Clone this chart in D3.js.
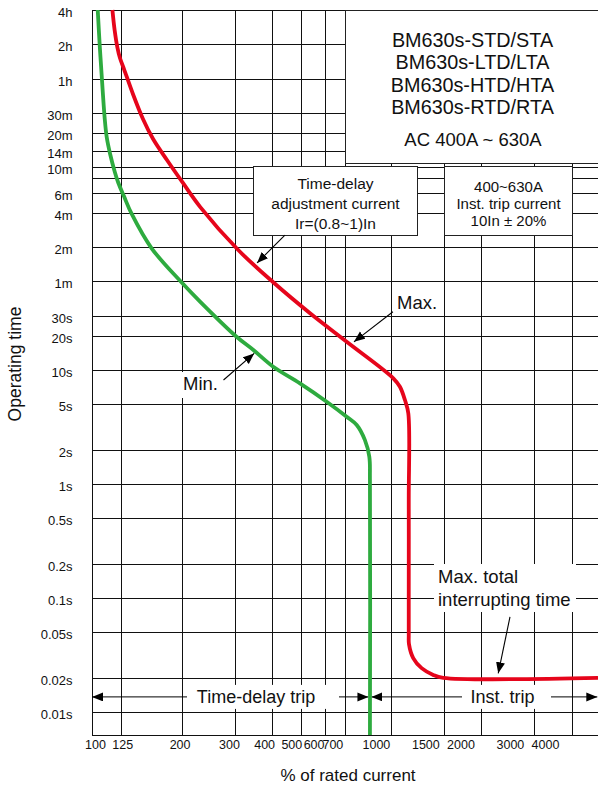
<!DOCTYPE html>
<meta charset="utf-8">
<style>
body { margin: 0; background: #fff; }
text { font-family: "Liberation Sans", Arial, sans-serif; fill: #111; }
.grid line { stroke: #111; stroke-width: 1; shape-rendering: crispEdges; }
.box { fill: #fff; stroke: #222; stroke-width: 1; shape-rendering: crispEdges; }
</style>
<body>
<script src="https://d3js.org/d3.v7.min.js"></script>
<script>

// x: % of rated current, y: operating time in seconds
var xTicks = [100, 125, 200, 300, 400, 500, 600, 700, 1000, 1500, 2000, 3000, 4000];
var xGrid = [125, 200, 300, 400, 500, 600, 700, 1000, 1500, 2000, 3000, 4000];

var yTicks = [14400, 7200, 3600, 1800, 1200, 840, 600, 360, 240, 120, 60, 30, 20, 10, 5, 2, 1, 0.5, 0.2, 0.1, 0.05, 0.02, 0.01];
var yTickLabels = ["4h", "2h", "1h", "30m", "20m", "14m", "10m", "6m", "4m", "2m", "1m", "30s", "20s", "10s", "5s", "2s", "1s", "0.5s", "0.2s", "0.1s", "0.05s", "0.02s", "0.01s"];
var yGrid = yTicks.concat([480]);

// max. curve (red)
var maxCurrent = [117, 119, 121.5, 124, 128, 137, 148, 160, 178, 201, 230, 308, 403, 535, 709, 1015, 1068, 1110, 1139, 1143, 1143, 1143, 1145, 1183, 1262, 1380, 1491, 4900];
var maxTime = [14400, 9618, 6818, 5462, 4349, 2640, 1593, 1063, 696, 440, 269, 113, 58.9, 31.5, 17.7, 8.47, 7.14, 5.46, 4.18, 0.725, 0.0962, 0.0474, 0.0395, 0.0298, 0.0243, 0.0212, 0.02, 0.02];

// min. curve (green)
var minCurrent = [104.5, 106.2, 107.4, 110.3, 112, 114.9, 119.1, 122.4, 127.9, 135.7, 158.2, 199, 230, 304, 346, 403, 495, 608, 709, 766, 816, 844, 848, 848];
var minTime = [14400, 6818, 4347, 1593, 1101, 790, 550, 440, 334, 234, 117, 58.9, 39.7, 19.6, 15.0, 10.7, 7.65, 5.28, 3.90, 3.30, 2.43, 1.74, 1.08, 0.0063];

var instTrip = 848;   // border between time-delay trip and inst. trip

var titleLines = ["BM630s-STD/STA", "BM630s-LTD/LTA", "BM630s-HTD/HTA", "BM630s-RTD/RTA"];

var width = 598,
    height = 789,
    plotLeft = 92, plotTop = 10, plotBottom = 735, plotRight = 598;

var svg = d3.select("body").append("svg")
    .attr("width", width)
    .attr("height", height);

var x = d3.scaleLog().domain([100, 4900]).range([plotLeft, plotRight]);
var xLabel = d3.scaleLog().domain([100, 4000]).range([95, 545]);
var y = d3.scaleLog().domain([0.0063, 14400]).range([plotBottom, plotTop]);

// arrow head
svg.append("defs").append("marker")
    .attr("id", "head")
    .attr("markerUnits", "userSpaceOnUse")
    .attr("markerWidth", 12).attr("markerHeight", 10)
    .attr("refX", 11).attr("refY", 4.5)
    .attr("orient", "auto-start-reverse")
  .append("path")
    .attr("d", "M0,0L11,4.5L0,9Z")
    .attr("fill", "#000");

var grid = svg.append("g").attr("class", "grid");

grid.selectAll(".h").data(yGrid).enter().append("line")
    .attr("class", "h")
    .attr("x1", plotLeft).attr("x2", plotRight + 2)
    .attr("y1", function(d) { return Math.round(y(d)) + 0.5; })
    .attr("y2", function(d) { return Math.round(y(d)) + 0.5; });

grid.selectAll(".v").data(xGrid).enter().append("line")
    .attr("class", "v")
    .attr("y1", plotTop).attr("y2", plotBottom)
    .attr("x1", function(d) { return Math.round(x(d)) + 0.5; })
    .attr("x2", function(d) { return Math.round(x(d)) + 0.5; });

// frame
grid.append("line").attr("x1", plotLeft + 0.5).attr("x2", plotLeft + 0.5).attr("y1", plotTop).attr("y2", plotBottom + 0.5);
grid.append("line").attr("x1", plotLeft).attr("x2", plotRight + 2).attr("y1", plotTop + 0.5).attr("y2", plotTop + 0.5);
grid.append("line").attr("x1", plotLeft).attr("x2", plotRight + 2).attr("y1", plotBottom + 0.5).attr("y2", plotBottom + 0.5);

// title box
svg.append("rect").attr("class", "box")
    .attr("x", Math.round(x(700)) + 0.5).attr("y", plotTop + 0.5)
    .attr("width", 260).attr("height", 153);

svg.selectAll(".title").data(titleLines).enter().append("text")
    .attr("class", "title")
    .attr("x", 472.5).attr("y", function(d, i) { return 40 + i * 22.3; })
    .attr("dy", "0.35em")
    .attr("text-anchor", "middle")
    .style("font-size", "19.8px")
    .text(function(d) { return d; });

svg.append("text")
    .attr("x", 473).attr("y", 140).attr("dy", "0.35em")
    .attr("text-anchor", "middle")
    .style("font-size", "18.5px")
    .text("AC 400A ~ 630A");

// axes
var yAxis = svg.append("g")
    .attr("transform", "translate(" + plotLeft + ",0)")
    .call(d3.axisLeft(y).tickValues(yTicks)
      .tickFormat(function(d, i) { return yTickLabels[i]; })
      .tickSize(0).tickPadding(19.5));
yAxis.select(".domain").remove();
yAxis.selectAll("text").attr("dy", "0.5em").style("font-size", "13px");

var xAxis = svg.append("g")
    .attr("transform", "translate(0," + plotBottom + ")")
    .call(d3.axisBottom(xLabel).tickValues(xTicks)
      .tickFormat(function(d) { return d; })
      .tickSize(0).tickPadding(5));
xAxis.select(".domain").remove();
xAxis.selectAll("text").style("font-size", "12.5px");

svg.append("text")
    .attr("x", 348).attr("y", 775).attr("dy", "0.35em")
    .attr("text-anchor", "middle")
    .style("font-size", "17px")
    .text("% of rated current");

svg.append("text")
    .attr("transform", "translate(15,364) rotate(-90)")
    .attr("dy", "0.35em")
    .attr("text-anchor", "middle")
    .style("font-size", "17.5px")
    .text("Operating time");

// bottom trip ranges
var rowY = y(0.0136);
svg.append("line")
    .attr("x1", x(100)).attr("x2", x(instTrip) - 1.5)
    .attr("y1", rowY).attr("y2", rowY)
    .attr("stroke", "#000").attr("stroke-width", 1)
    .attr("marker-start", "url(#head)").attr("marker-end", "url(#head)");
svg.append("line")
    .attr("x1", x(instTrip) + 1.5).attr("x2", 597.3)
    .attr("y1", rowY).attr("y2", rowY)
    .attr("stroke", "#000").attr("stroke-width", 1)
    .attr("marker-start", "url(#head)").attr("marker-end", "url(#head)");

function label(lines, cx, cy, size, anchor, bg, lh) {
  if (bg) {
    svg.append("rect").attr("fill", "#fff")
      .attr("x", bg[0]).attr("y", bg[1]).attr("width", bg[2]).attr("height", bg[3]);
  }
  lines.forEach(function(s, i) {
    svg.append("text")
      .attr("x", cx).attr("y", cy + i * (lh || 0)).attr("dy", "0.35em")
      .attr("text-anchor", anchor)
      .style("font-size", size + "px")
      .text(s);
  });
}

label(["Time-delay trip"], 256, rowY, 18, "middle", [187, rowY - 12, 152, 24]);
label(["Inst. trip"], 502.5, rowY, 18, "middle", [462, rowY - 12, 89, 24]);
label(["Max. total", "interrupting time"], 438, 577, 18.5, "start", [434, 564, 142, 48], 23);
label(["Min."], 183, 384, 18.5, "start", [180, 372, 44, 26]);
label(["Max."], 397, 303, 18.5, "start", null);

// curves
var line = d3.line()
    .x(function(d) { return x(d[0]); })
    .y(function(d) { return y(d[1]); })
    .curve(d3.curveCatmullRom.alpha(0.5));

svg.append("path")
    .datum(d3.zip(minCurrent, minTime))
    .attr("d", line)
    .attr("fill", "none")
    .attr("stroke", "#2eab3f")
    .attr("stroke-width", 3.8);

svg.append("path")
    .datum(d3.zip(maxCurrent, maxTime))
    .attr("d", line)
    .attr("fill", "none")
    .attr("stroke", "#e6051b")
    .attr("stroke-width", 3.8);

// info boxes
svg.append("rect").attr("class", "box")
    .attr("x", 253.5).attr("y", 166.5).attr("width", 164).attr("height", 69);
label(["Time-delay", "adjustment current", "Ir=(0.8~1)In"], 335.5, 184, 15.5, "middle", null, 20);

svg.append("rect").attr("class", "box")
    .attr("x", 444.5).attr("y", 166.5).attr("width", 128).attr("height", 69);
label(["400~630A", "Inst. trip current", "10In \u00b1 20%"], 508.5, 186.5, 15, "middle", null, 17);

// pointer arrows
function arrow(x1, y1, x2, y2) {
  svg.append("line")
    .attr("x1", x(x1)).attr("y1", y(y1))
    .attr("x2", x(x2)).attr("y2", y(y2))
    .attr("stroke", "#000").attr("stroke-width", 1.1)
    .attr("marker-end", "url(#head)");
}
arrow(441, 153, 356, 87);
arrow(1012, 32.5, 750, 17.7);
arrow(275, 8.18, 348, 14.0);
arrow(2490, 0.0686, 2275, 0.0219);

</script>
